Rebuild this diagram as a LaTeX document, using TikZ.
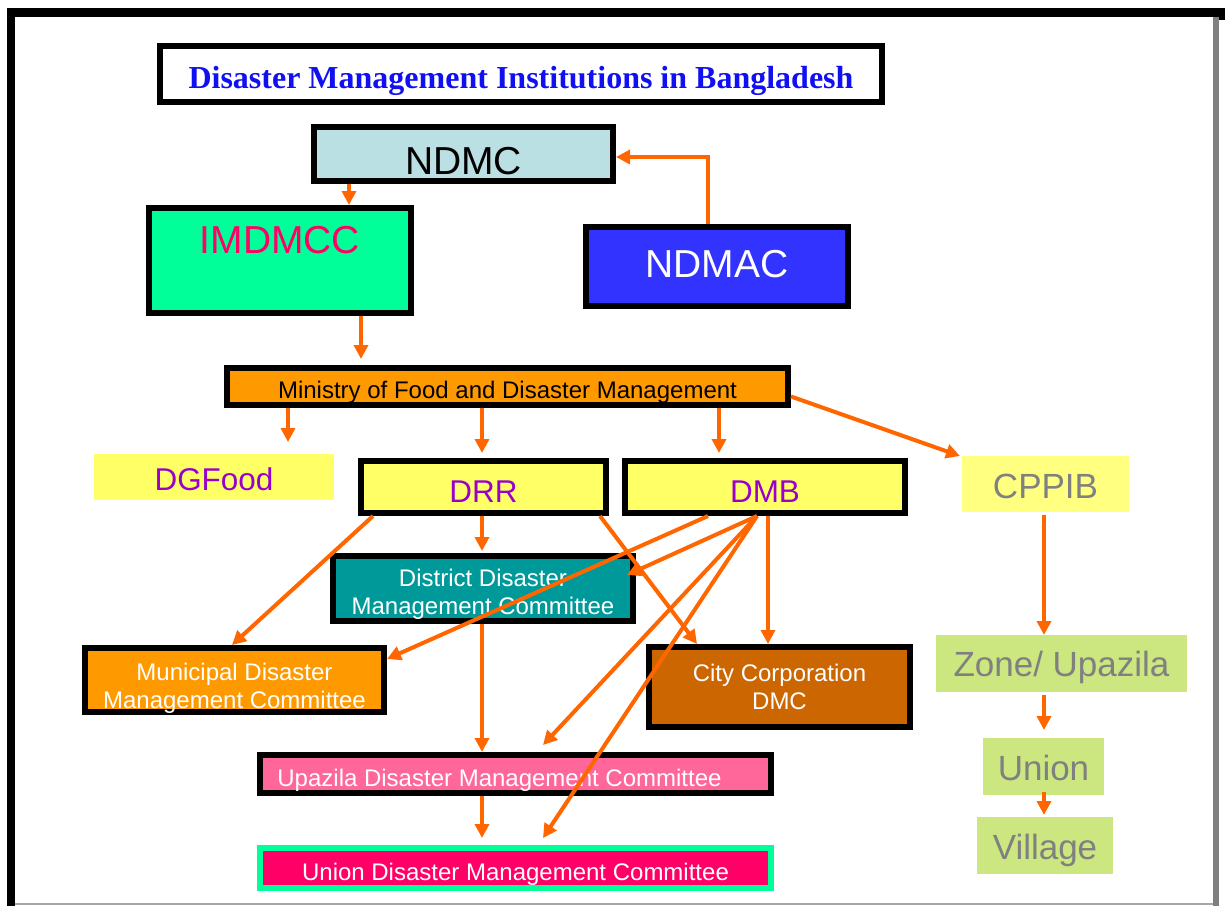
\documentclass[tikz,border=0pt]{standalone}
\usepackage{fontspec}
\setmainfont{Liberation Sans}
\newfontfamily\tnr{Liberation Serif}
\usetikzlibrary{arrows.meta,calc}
\definecolor{arrorange}{HTML}{FF6600}
\definecolor{ndmcblue}{HTML}{BBE0E3}
\definecolor{imgreen}{HTML}{00FF99}
\definecolor{impink}{HTML}{FF0066}
\definecolor{ndmacblue}{HTML}{3333FF}
\definecolor{minorange}{HTML}{FF9900}
\definecolor{boxyellow}{HTML}{FFFF66}
\definecolor{lightyellow}{HTML}{FFFF80}
\definecolor{txtpurple}{HTML}{9900CC}
\definecolor{txtgrey}{HTML}{808080}
\definecolor{teal2}{HTML}{009999}
\definecolor{cityorange}{HTML}{CC6600}
\definecolor{upapink}{HTML}{FF6699}
\definecolor{lgreen}{HTML}{CCE680}
\definecolor{titleblue}{HTML}{1010F0}
\newcommand{\shiftt}[2]{\raisebox{#1}[\height][\depth]{#2}}
\newcommand{\twol}[3]{\raisebox{#1}[\height][\depth]{\begin{tabular}{@{}c@{}}#2\\#3\end{tabular}}}
\tikzset{
  box/.style={draw=black, line width=4.5pt, inner sep=0pt, outer sep=auto, align=center},
  plainbox/.style={inner sep=0pt, outer sep=0pt, align=center},
  bigfont/.style={font=\fontsize{29.25pt}{35pt}\selectfont},
  midfont/.style={font=\fontsize{23.6pt}{28pt}\selectfont},
  rfont/.style={font=\fontsize{26.25pt}{31pt}\selectfont},
  smallfont/.style={font=\fontsize{18pt}{21pt}\selectfont},
  arr/.style={draw=arrorange, line width=3pt, -{Triangle[length=10.5pt,width=10.5pt]}},
}
\begin{document}
\begin{tikzpicture}[x=0.75pt,y=-0.75pt]
\useasboundingbox (0,0) rectangle (1225,906);
% frame
\fill[black] (7,8) rectangle (1225,17);
\fill[black] (7,8) rectangle (15,906);
\fill[black] (1218,8) rectangle (1225,20);
\fill[gray] (1213,17) rectangle (1219,906);
\fill[gray!70] (15,903) rectangle (1213,905);

% title
\node[box, fill=white, minimum width=541.5pt, minimum height=42pt,
  font=\tnr\bfseries\fontsize{24pt}{28pt}\selectfont, text=titleblue]
  (title) at (521,74) {\shiftt{-5.25pt}{Disaster Management Institutions in Bangladesh}};

\node[box, fill=ndmcblue, minimum width=224.25pt, minimum height=40.5pt, bigfont]
  (ndmc) at (463.5,154) {\shiftt{-5.25pt}{NDMC}};
\node[box, fill=imgreen, minimum width=196.5pt, minimum height=78.75pt, bigfont, text=impink]
  (imdmcc) at (280,260.5) {\shiftt{15pt}{IMDMCC}};
\node[box, fill=ndmacblue, minimum width=196.5pt, minimum height=59.25pt, bigfont, text=white]
  (ndmac) at (717,266.5) {\shiftt{1.5pt}{NDMAC}};

\node[box, fill=minorange, minimum width=420.75pt, minimum height=27.75pt, smallfont]
  (min) at (507.5,386.5) {\shiftt{-4.5pt}{Ministry of Food and Disaster Management}};

\node[plainbox, fill=boxyellow, minimum width=180pt, minimum height=34.5pt, midfont, text=txtpurple]
  (dgfood) at (214,477) {\shiftt{-1.5pt}{DGFood}};
\node[box, fill=boxyellow, minimum width=183.75pt, minimum height=39pt, midfont, text=txtpurple]
  (drr) at (483.5,487) {\shiftt{-3.75pt}{DRR}};
\node[box, fill=boxyellow, minimum width=210pt, minimum height=39pt, midfont, text=txtpurple]
  (dmb) at (765,487) {\shiftt{-3.75pt}{DMB}};
\node[plainbox, fill=lightyellow, minimum width=125.25pt, minimum height=42pt, rfont, text=txtgrey]
  (cppib) at (1045.5,484) {\shiftt{-1.5pt}{CPPIB}};

\node[box, fill=teal2, minimum width=225pt, minimum height=48.75pt, smallfont, text=white]
  (district) at (483,588.5) {\twol{-4.5pt}{District Disaster}{Management Committee}};
\node[box, fill=minorange, minimum width=224.25pt, minimum height=48pt, smallfont, text=white]
  (municipal) at (234.5,680) {\twol{-7pt}{Municipal Disaster}{Management Committee}};
\node[box, fill=cityorange, minimum width=195.75pt, minimum height=60pt, smallfont, text=white]
  (city) at (779.5,687) {\twol{-2.25pt}{City Corporation}{DMC}};
\node[draw=black, line width=4.5pt, inner sep=0pt, outer sep=auto, fill=upapink,
  minimum width=383.25pt, minimum height=28.5pt, smallfont, text=white]
  (upazila) at (515.5,774) {\shiftt{-4.5pt}{Upazila Disaster Management Committee}\rule{24pt}{0pt}};
\node[box, draw=imgreen, fill=impink, minimum width=383.25pt, minimum height=30pt, smallfont, text=white]
  (uniondmc) at (515.5,868) {\shiftt{-4.5pt}{Union Disaster Management Committee}};

\node[plainbox, fill=lgreen, minimum width=188.25pt, minimum height=42.75pt, rfont, text=txtgrey]
  (zone) at (1061.5,663.5) {\shiftt{-3pt}{Zone/ Upazila}};
\node[plainbox, fill=lgreen, minimum width=90.75pt, minimum height=42.75pt, rfont, text=txtgrey]
  (unionr) at (1043.5,766.5) {\shiftt{-0.75pt}{Union}};
\node[plainbox, fill=lgreen, minimum width=102pt, minimum height=42.75pt, rfont, text=txtgrey]
  (village) at (1045,845.5) {\shiftt{-3.75pt}{Village}};

% connectors
\draw[arr] ($(ndmc.south west)+(38,0)$) -- ($(imdmcc.north west)+(203,0)$);
\draw[arr] ($(ndmac.north west)+(125,0)$) |- ($(ndmc.east)+(0,3)$);
\draw[arr] ($(imdmcc.south west)+(215,0)$) -- ($(min.north west)+(137,-6)$);
\draw[arr] ($(min.south west)+(64,0)$) -- ($(dgfood.north west)+(194,-12)$);
\draw[arr] ($(min.south west)+(258,0)$) -- ($(drr.north west)+(124,-5)$);
\draw[arr] ($(min.south west)+(495,0)$) -- ($(dmb.north west)+(97,-5)$);
\draw[arr] ($(min.east)+(0,10)$) -- ($(cppib.north west)+(-2,0)$);

\draw[arr] ($(drr.south west)+(15,0)$) -- ($(municipal.north west)+(150,0)$);
\draw[arr] ($(drr.south west)+(124,0)$) -- ($(district.north west)+(152,-2)$);
\draw[arr] ($(drr.south east)+(-9,0)$) -- ($(city.north west)+(51,0)$);
\draw[arr] ($(district.south west)+(152,0)$) -- ($(upazila.north west)+(225,0)$);
\draw[arr] ($(upazila.south west)+(225,0)$) -- ($(uniondmc.north west)+(225,-7)$);

\draw[arr] ($(dmb.south west)+(86,0)$) -- ($(municipal.north east)+(0,14)$);
\draw[arr] ($(dmb.south west)+(135,0)$) -- ($(district.north east)+(-9,22)$);
\draw[arr] ($(dmb.south west)+(135,0)$) -- ($(upazila.north west)+(286,-7)$);
\draw[arr] ($(dmb.south west)+(135,0)$) -- ($(uniondmc.north west)+(286,-7)$);
\draw[arr] ($(dmb.south west)+(146,0)$) -- ($(city.north west)+(122,0)$);

\draw[arr] ($(cppib.south west)+(82,3)$) -- ($(zone.north west)+(108,0)$);
\draw[arr] ($(zone.south west)+(108,3)$) -- ($(unionr.north west)+(61,-8)$);
\draw[arr] ($(unionr.south west)+(61,-3)$) -- ($(village.north west)+(67,-2)$);
\end{tikzpicture}
\end{document}
